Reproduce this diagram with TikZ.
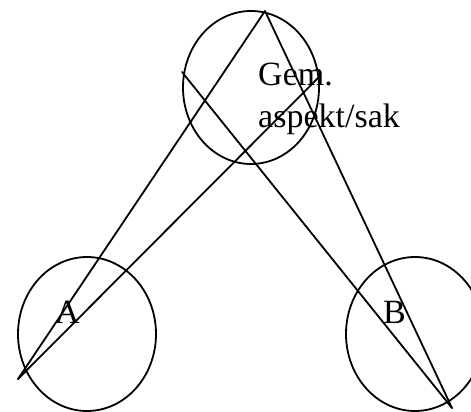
\documentclass[tikz,border=0pt]{standalone}
\usepackage{fontspec}
\setmainfont{Liberation Serif}
\usetikzlibrary{positioning}
\tikzset{
    ring/.style={draw, line width=1.8pt},
    ray/.style={draw, line width=1.8pt, line cap=round},
    lbl/.style={inner sep=0pt, anchor=base west, font=\fontsize{34}{42}\selectfont}
}
\begin{document}
\begin{tikzpicture}[x=1pt, y=-1pt]
    \useasboundingbox (0,0) rectangle (471,412);
    \clip (0,0) rectangle (471,412);

    % Circles
    \draw[ring] (251,87.5) ellipse [x radius=68, y radius=76.5];
    \draw[ring] (87,334) ellipse [x radius=69, y radius=77];
    \draw[ring] (415,334) ellipse [x radius=69, y radius=77];

    % Labels
    \node[lbl] (gem) at (258,85) {Gem.};
    \node[lbl] (sak) at (258,127) {aspekt/sak};
    \node[lbl] (a) at (55,323) {A};
    \node[lbl] (b) at (383,323) {B};

    % Ends of the lines
    \coordinate (apex) at (265,11);
    \coordinate (aend) at (18,379);
    \coordinate (bend) at (452,408);
    \coordinate (gtip) at (320,76);
    \coordinate (kstart) at (182,72);

    \draw[ray] (apex) -- (aend);
    \draw[ray] (aend) -- (gtip);
    \draw[ray] (apex) -- (bend);
    \draw[ray] (kstart) -- (bend);
\end{tikzpicture}
\end{document}
